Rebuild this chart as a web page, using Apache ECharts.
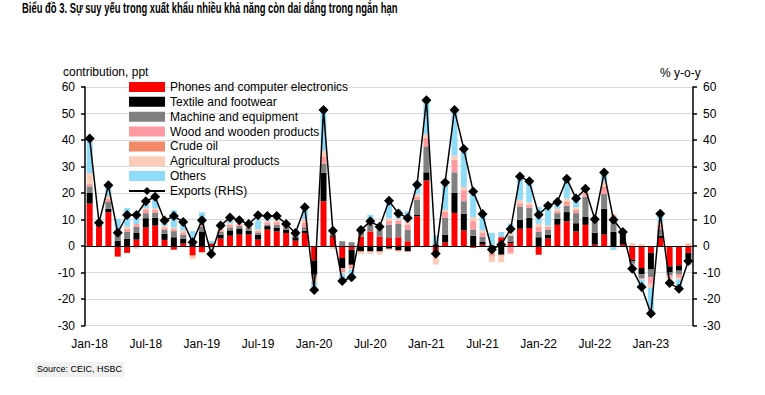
<!DOCTYPE html>
<html>
<head>
<meta charset="utf-8">
<script src="https://cdn.jsdelivr.net/npm/echarts@6/dist/echarts.min.js"></script>
<style>
html,body{margin:0;padding:0;background:#fff;}
#c{width:765px;height:395px;}
</style>
</head>
<body>
<div id="c"></div>
<script>
// ---- data ----
var monthNames = ['Jan','Feb','Mar','Apr','May','Jun','Jul','Aug','Sep','Oct','Nov','Dec'];
var categories = [];
for (var y = 18; y <= 23; y++) {
  for (var m = 0; m < 12; m++) {
    if (y === 23 && m > 4) break;
    categories.push(monthNames[m] + '-' + y);
  }
}
var phones = [16, 7.5, 12.7, -4, -2.6, 2.4, 7, 7.7, 2.3, -1.4, 0.9, -3.5, -2.3, 0.8, 2.8, 3.9, 4.3, 4.3, 2.4, 6.2, 5.5, 4.9, 2, 4.9, -5.5, 16.9, 3.5, -4.5, -1.4, 3.5, 5.5, 3.6, 3, 3.3, 1.8, 11.2, 24.7, -2.5, 1.3, 12.5, 5.9, -0.7, 0.5, -1.5, 3, 1, 6.5, 6.8, -3.3, 2.8, 8, 9.3, 5.5, 8, 0.5, 4.3, 0, 0.5, -5.2, -8.3, -2.6, 3, -7.7, -7.3, -2.6];
var textile = [4, 0.5, 1.4, 2, 2.8, 2.5, 3.5, 2.9, 2.3, 3.3, 1.9, 0.5, 5.5, -0.5, 1.5, 2, 2.3, 1.5, 1.9, 1.3, 1.5, 1.3, 1.3, 0.9, -5.3, 10.7, 0.5, -3.8, -5.7, -2, -2, -2, -1, -1.5, -2, 0.5, 3.1, 0.5, 3, 7.5, 6.3, 3.9, 1, -0.5, -3.3, 0.5, 3.4, 3.8, 3.3, 1.5, 2.3, 3.5, 3.1, 3.1, 4.5, 9.8, 5.3, 4.3, -0.5, -2.3, -6.3, 0.8, -2.3, -2, -2];
var machine = [2.5, 0.3, 2.5, 2.5, 2.5, 2.3, 1.9, 1.9, 1.6, 2.3, 1.5, 1.3, 1.9, 0.3, 1, 1.1, 0.9, 1, 0.6, 0.6, 1, 0.8, 1, 1.3, -0.8, 3.4, 0.5, 1.8, 1.4, 2, 2.5, 2.5, 5, 5, 4.4, 5.7, 9.8, 0.5, 6.3, 7.8, 4.7, 2.3, 2, 0.5, 0.5, 2.5, 5, 3.8, 2, 1.9, 2.1, 2.4, 3.8, 7.5, 5, 5.5, 4.7, 0.5, -1, -1.5, -2.9, 2.5, -1.1, -1.5, -1.3];
var wood = [0.7, 0.2, 0.9, 0.5, 0.9, 0.9, 0.9, 0.9, 0.6, 0.6, 0.6, 0.8, 0.6, 0, 0.5, 0.8, 0.6, 0.6, 0.6, 0.6, 0.8, 0.5, 0.5, 1.3, -0.6, 2.3, 0.3, -1, -0.7, 0.5, 0.8, 0.8, 1.5, 1.2, 1.9, 1, 2.8, 0, 1.9, 4.4, 3.8, 3.1, 1.2, -1.5, 0.3, -2.5, 0.9, 0.9, 1.5, 0.6, 0.6, 1, 0.9, 0.9, 0.4, 2.3, 0.9, 0, -0.5, -0.5, -2.1, 1.2, -0.9, -1, -0.5];
var crude = [0.3, 0, 0.3, 0.3, 0.3, 0.2, 0.3, 0.3, 0.2, 0.2, 0.2, -0.5, 0.2, 0, 0.2, 0.2, 0.2, 0.2, 0.2, 0.2, 0.2, 0.2, 0.2, 0.3, -0.3, 0.3, -0.3, -0.5, -0.5, -0.3, -0.3, -0.4, -0.3, -0.5, -0.3, 0.2, 0.3, -0.5, 0.3, 0.3, 0.3, 0.3, 0.2, -0.5, -0.3, -0.3, 0.3, 0.3, 0.3, 0.3, 0.3, 0.4, 0.4, 0.4, 0.2, 0.4, 0.3, 0.2, 0.2, 0.2, -0.3, 0.3, -0.2, -0.2, 0.3];
var agri = [4, -0.5, 1, 1, 0.8, -1, 0.8, 0.6, 0.6, 0.6, 0.8, -1, -0.5, -0.5, 0.5, 0.6, 0.5, 0.6, 0.5, 0.6, 0.7, 0.5, 0.6, 1.6, -1, 2.3, -0.8, -0.5, -0.6, -0.7, -0.7, -0.8, 1, 0.8, 1, 0.9, 1.4, -4, 0.9, 1.6, 1.3, 1.3, 1, -2, -2.5, 1, 1.3, 0.9, 1.3, 0.6, 0.8, 1.3, 0.9, 1, 0.3, 1.9, 1, 0.3, 0.9, 0.5, -1.6, 1.2, -0.5, -0.6, 0.8];
var others = [12, 0.3, 3.4, 4, 7, 2.5, 1.5, 3.5, 1.6, 6.5, 2.5, 3, 4.5, 0.8, 0.8, 1.1, 1.9, 0.5, 3.5, 1.3, 2, 0.5, 0.5, 3.8, -3.5, 15.3, 0.5, -3.5, -3.5, 1.5, 3, 1.5, 5.5, 3.5, 4, 3.1, 12.2, 3, 11, 17, 14.5, 10, 6.5, 4.5, 1.5, 3.5, 9.2, 8.5, 6.3, 7.5, 2.1, 7, 4.4, 1.2, 0, 3.8, -1.5, -0.3, -2.3, -2.5, -9, 3.5, -1.5, -2.8, -0.8];
var exportsYoY = [40.6, 8.8, 22.9, 5.0, 11.7, 11.7, 16.9, 18.6, 9.6, 11.3, 9.1, 1.4, 9.7, -3.0, 7.7, 10.8, 9.7, 8.3, 11.6, 11.3, 11.3, 8.3, 4.9, 14.6, -16.6, 51.3, 5.8, -13.2, -11.8, 6.0, 9.3, 7.3, 17.1, 12.3, 10.6, 23.1, 55.0, -2.9, 24.0, 51.3, 36.6, 20.6, 12.1, -1.3, 0.5, 6.4, 26.2, 24.4, 11.8, 15.2, 16.6, 25.4, 17.9, 21.6, 10.1, 27.7, 9.9, 5.3, -8.6, -15.5, -25.5, 12.2, -14.0, -16.1, -5.7];
var yTicks = {min: -30, max: 60, interval: 10};

var seriesNames = ['Phones and computer electronics','Textile and footwear','Machine and equipment','Wood and wooden products','Crude oil','Agricultural products','Others'];
var seriesData = [phones, textile, machine, wood, crude, agri, others];
var seriesColors = ['#FF0000','#000000','#808080','#FF9AA2','#F28A68','#FBCDB9','#8EDCF8'];
var lineName = 'Exports (RHS)';

var font = '"Liberation Sans", Arial, sans-serif';

// ---- title: bold 14px, horizontally condensed to reference width ----
var titleText = 'Biểu đồ 3. Sự suy yếu trong xuất khẩu nhiều khả năng còn dai dẳng trong ngắn hạn';
var cv = document.createElement('canvas').getContext('2d');
cv.font = 'bold 14px ' + font;
var tw = cv.measureText(titleText).width;
var titleScale = Math.min(1, 376 / tw);

var chart = echarts.init(document.getElementById('c'), null, {renderer: 'svg'});

var series = [];
for (var i = 0; i < seriesNames.length; i++) {
  var s = {
    name: seriesNames[i],
    type: 'bar',
    stack: 'contrib',
    data: seriesData[i],
    barWidth: 6,
    itemStyle: {color: seriesColors[i]},
    emphasis: {disabled: true},
    animation: false
  };
  if (i === 0) {
    s.markLine = {
      silent: true, symbol: ['none','none'], animation: false,
      label: {show: false},
      lineStyle: {color: '#000', width: 1.2, type: 'solid'},
      data: [{yAxis: 0}]
    };
  }
  series.push(s);
}
series.push({
  name: lineName,
  type: 'line',
  yAxisIndex: 1,
  data: exportsYoY,
  symbol: 'diamond',
  symbolSize: 10,
  showAllSymbol: true,
  lineStyle: {color: '#000', width: 1.5},
  itemStyle: {color: '#000'},
  emphasis: {disabled: true},
  animation: false,
  z: 5
});

var legendData = seriesNames.map(function(n){ return {name: n, icon: 'rect'}; });
legendData.push({name: lineName});

chart.setOption({
  backgroundColor: '#fff',
  animation: false,
  legend: {
    orient: 'vertical', left: 128, top: 80, padding: 0,
    itemWidth: 36, itemHeight: 10, itemGap: 0.85,
    textStyle: {fontFamily: font, fontSize: 12, color: '#000', lineHeight: 14},
    data: legendData,
    selectedMode: false
  },
  grid: {left: 85, right: 72, top: 87, bottom: 69.5},
  xAxis: {
    type: 'category',
    data: categories,
    boundaryGap: true,
    axisLine: {show: false, onZero: false},
    axisTick: {show: false},
    axisLabel: {interval: 5, margin: 12, fontFamily: font, fontSize: 12, color: '#000'},
    splitLine: {show: false}
  },
  yAxis: [
    {
      type: 'value', position: 'left',
      min: yTicks.min, max: yTicks.max, interval: yTicks.interval,
      axisLine: {show: true, lineStyle: {color: '#000', width: 1.5}},
      axisTick: {show: true, length: 4, lineStyle: {color: '#000', width: 1.5}},
      axisLabel: {margin: 10, fontFamily: font, fontSize: 12, color: '#000'},
      splitLine: {show: true, lineStyle: {color: '#D9D9D9', width: 1}}
    },
    {
      type: 'value', position: 'right',
      min: yTicks.min, max: yTicks.max, interval: yTicks.interval,
      axisLine: {show: true, lineStyle: {color: '#000', width: 1.5}},
      axisTick: {show: true, length: 4, lineStyle: {color: '#000', width: 1.5}},
      axisLabel: {margin: 10, fontFamily: font, fontSize: 12, color: '#000'},
      splitLine: {show: false}
    }
  ],
  graphic: [
    {type: 'text', x: 22, y: 1, scaleX: titleScale, style: {text: titleText, font: 'bold 14px ' + font, fill: '#000'}},
    {type: 'text', left: 63, top: 66, style: {text: 'contribution, ppt', font: '12px ' + font, fill: '#000'}},
    {type: 'text', left: 660, top: 67, style: {text: '% y-o-y', font: '12px ' + font, fill: '#000'}},
    {type: 'rect', left: 35, top: 362, shape: {width: 89, height: 15}, style: {fill: '#F1F1F1'}},
    {type: 'text', left: 37, top: 364, style: {text: 'Source: CEIC, HSBC', font: '9px ' + font, fill: '#000'}}
  ],
  series: series
});
</script>
</body>
</html>
